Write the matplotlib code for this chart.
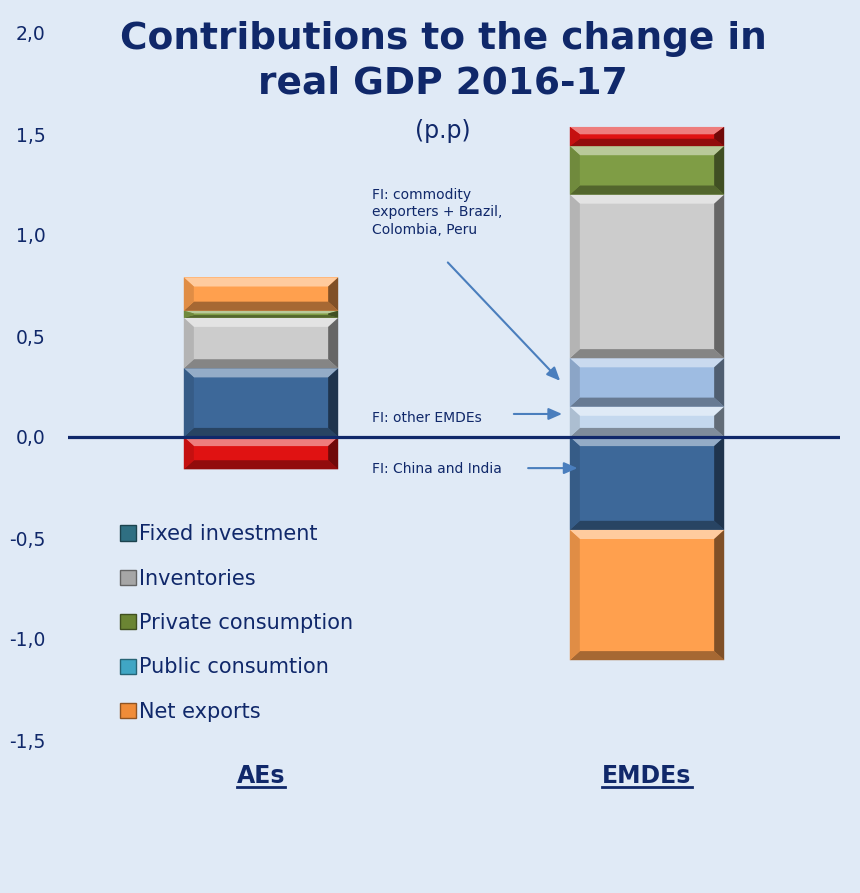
import matplotlib
matplotlib.use("Agg")
import matplotlib.pyplot as plt
import matplotlib.colors as mcolors
from matplotlib.patches import Polygon, Patch
from matplotlib.lines import Line2D
import numpy as np

# contributions to real GDP change 2016-17, percentage points
categories = ["AEs", "EMDEs"]
fi_china_india = [0.34, -0.46]   # for AEs this is total fixed investment
fi_other = [0.0, 0.15]
fi_commodity = [0.0, 0.24]
inventories = [0.25, 0.81]
private_cons = [0.035, 0.24]
public_cons = [-0.16, 0.095]
net_exports = [0.165, -0.645]

series = [fi_china_india, fi_other, fi_commodity, inventories,
          private_cons, public_cons, net_exports]
bar_colors = ["#3d6899", "#c4d8ee", "#9ebce2", "#cccccc",
              "#7f9d45", "#e01212", "#ffa04e"]

legend_labels = ["Fixed investment", "Inventories", "Private consumption",
                 "Public consumtion", "Net exports"]
legend_colors = ["#2f6f82", "#a6a6a6", "#6b8533", "#40a6c4", "#f08c38"]

bg = "#e0eaf6"
navy = "#10286a"
arrow_col = "#4a7ebd"


def shade(c, f):
    r = np.array(mcolors.to_rgb(c))
    if f > 0:
        return tuple(r + (1 - r) * f)
    return tuple(r * (1 + f))


def add_bevel(ax, rect, color, bx=0.026, by=0.045):
    x0, y0 = rect.get_x(), rect.get_y()
    w, h = rect.get_width(), rect.get_height()
    if h < 0:
        y0, h = y0 + h, -h
    if h == 0:
        return
    by = min(by, h / 2.6)
    x1, y1 = x0 + w, y0 + h
    faces = [
        ([(x0, y1), (x1, y1), (x1 - bx, y1 - by), (x0 + bx, y1 - by)], 0.45),
        ([(x0, y0), (x1, y0), (x1 - bx, y0 + by), (x0 + bx, y0 + by)], -0.35),
        ([(x0, y0), (x0 + bx, y0 + by), (x0 + bx, y1 - by), (x0, y1)], -0.12),
        ([(x1, y0), (x1 - bx, y0 + by), (x1 - bx, y1 - by), (x1, y1)], -0.5),
    ]
    for pts, f in faces:
        ax.add_patch(Polygon(pts, closed=True, facecolor=shade(color, f),
                             edgecolor="none", zorder=3))


fig = plt.figure(figsize=(8.6, 8.93), dpi=100, facecolor=bg)
ax = fig.add_axes([68 / 860, 153 / 893, 772 / 860, 707 / 893])
ax.set_facecolor(bg)

x = np.arange(len(categories))
width = 0.40
pos_base = np.zeros(len(categories))
neg_base = np.zeros(len(categories))
for vals, col in zip(series, bar_colors):
    vals = np.array(vals, dtype=float)
    bottoms = np.where(vals >= 0, pos_base, neg_base)
    bars = ax.bar(x, vals, width, bottom=bottoms, color=col,
                  edgecolor="none", zorder=2)
    for b in bars:
        add_bevel(ax, b, col)
    pos_base += np.where(vals > 0, vals, 0)
    neg_base += np.where(vals < 0, vals, 0)

ax.axhline(0, color=navy, lw=2.3, zorder=4)

ax.set_xlim(-0.5, 1.5)
ax.set_ylim(-1.5, 2.0)
yt = np.arange(-1.5, 2.01, 0.5)
ax.set_yticks(yt)
ax.set_yticklabels([f"{v:.1f}".replace(".", ",") for v in yt])
ax.tick_params(axis="y", length=0, pad=16, labelsize=13.5, labelcolor=navy)
ax.set_xticks([])
for s in ax.spines.values():
    s.set_visible(False)

# category labels below the plot area, bold and underlined
cat_texts = []
for xi, name in zip(x, categories):
    t = ax.text(xi, -1.62, name, ha="center", va="top", fontsize=17,
                fontweight="bold", color=navy)
    cat_texts.append(t)

fig.text(443 / 860, 1 - 61 / 893, "Contributions to the change in\nreal GDP 2016-17",
         ha="center", va="center", fontsize=27, fontweight="bold", color=navy,
         linespacing=1.3)
fig.text(443 / 860, 1 - 131 / 893, "(p.p)", ha="center", va="center",
         fontsize=17, color=navy)

# annotations for the fixed investment split
ann_kw = dict(arrowprops=dict(arrowstyle="-|>,head_length=0.8,head_width=0.35",
                              color=arrow_col, lw=1.5, shrinkA=0, shrinkB=0))
ax.annotate("", xy=(0.775, 0.278), xytext=(0.484, 0.864), **ann_kw)
ax.text(0.288, 1.235, "FI: commodity\nexporters + Brazil,\nColombia, Peru",
        fontsize=10, color=navy, va="top", linespacing=1.35)
ax.annotate("", xy=(0.78, 0.114), xytext=(0.655, 0.114), **ann_kw)
ax.text(0.288, 0.094, "FI: other EMDEs", fontsize=10, color=navy, va="center")
ax.annotate("", xy=(0.82, -0.154), xytext=(0.692, -0.154), **ann_kw)
ax.text(0.288, -0.159, "FI: China and India", fontsize=10, color=navy, va="center")

handles = [Patch(facecolor=c, edgecolor=shade(c, -0.4), lw=1) for c in legend_colors]
leg = fig.legend(handles, legend_labels, loc="upper left",
                 bbox_to_anchor=(112 / 860, 1 - 516 / 893), frameon=False,
                 fontsize=15, handlelength=0.75, handleheight=0.75,
                 handletextpad=0.15, labelspacing=1.17, borderaxespad=0)
for t in leg.get_texts():
    t.set_color(navy)

# underline the category labels
fig.canvas.draw()
r = fig.canvas.get_renderer()
for t in cat_texts:
    bb = t.get_window_extent(r)
    y = bb.y0 + 1
    fig.add_artist(Line2D([bb.x0 / 860, bb.x1 / 860], [y / 893, y / 893],
                          color=navy, lw=2, transform=fig.transFigure))

fig.savefig("out.png", dpi=100, facecolor=bg)
